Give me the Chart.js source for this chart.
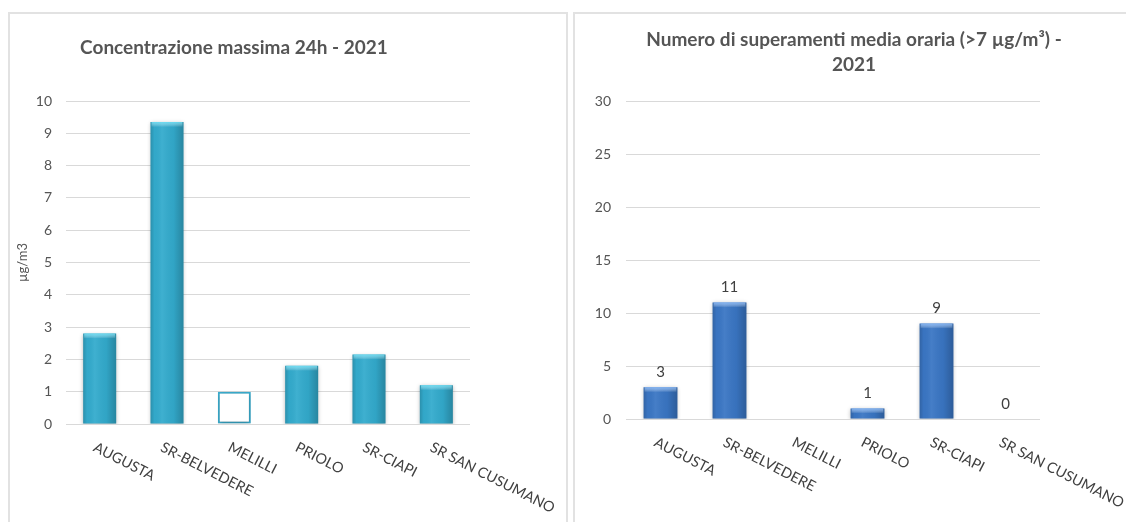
<!DOCTYPE html>
<html>
<head>
<meta charset="utf-8">
<script src="https://cdn.jsdelivr.net/npm/chart.js@4.4.1/dist/chart.umd.min.js"></script>
<style>
  body { margin: 0; width: 1126px; height: 522px; overflow: hidden; position: relative; background: #fff; font-family: Lato, sans-serif; }
  .panel { position: absolute; border: 2px solid #e2e2e2; box-sizing: border-box; background: #fff; }
  #p1 { left: 8px; top: 12px; width: 560px; height: 530px; }
  #p2 { left: 573px; top: 12px; width: 570px; height: 530px; }
  canvas { position: absolute; }
  #c1 { left: 10px; top: 14px; }
  #c2 { left: 575px; top: 14px; }
</style>
</head>
<body>
<div class="panel" id="p1"></div>
<div class="panel" id="p2"></div>
<canvas id="c1" width="556" height="508"></canvas>
<canvas id="c2" width="551" height="508"></canvas>
<script>
// stations
const stations = ['AUGUSTA', 'SR-BELVEDERE', 'MELILLI', 'PRIOLO', 'SR-CIAPI', 'SR SAN CUSUMANO'];
// max 24h concentration, µg/m3
const maxConc24h = [2.8, 9.35, 1.0, 1.8, 2.15, 1.2];
// hourly mean exceedances (>7 µg/m3)
const exceedances = [3, 11, null, 1, 9, 0];

const leftTitle = ['Concentrazione massima 24h - 2021'];
const rightTitle = ['Numero di superamenti media oraria (>7 µg/m³) -', '2021'];
const leftAxisTitle = 'µg/m3';
const leftTicks = { min: 0, max: 10, step: 1 };
const rightTicks = { min: 0, max: 30, step: 5 };

const hollowBars = ['MELILLI']; // drawn as empty box in the first chart

const FONT = 'Lato, "Open Sans", sans-serif';
const GRID = '#d9d9d9';
const TEXT = '#555555';

// shading, titles, rotated category labels and value labels
const decor = {
  id: 'decor',
  beforeDatasetsDraw(chart) {
    const ctx = chart.ctx;
    ctx.save();
    ctx.shadowColor = 'rgba(0,0,0,0.28)';
    ctx.shadowBlur = 4;
    ctx.shadowOffsetY = 1;
  },
  afterDatasetsDraw(chart, args, opts) {
    const ctx = chart.ctx;
    ctx.restore();
    const meta = chart.getDatasetMeta(0);
    const data = chart.data.datasets[0].data;
    meta.data.forEach((bar, i) => {
      if (data[i] == null) return;
      if (hollowBars.includes(chart.data.labels[i]) && opts.hollow) return;
      const l = bar.x - bar.width / 2, r = bar.x + bar.width / 2;
      const t = bar.y, b = bar.base;
      if (b - t < 1) return;
      const g = ctx.createLinearGradient(l, 0, r, 0);
      g.addColorStop(0, 'rgba(0,0,0,0.16)');
      g.addColorStop(0.12, 'rgba(0,0,0,0.02)');
      g.addColorStop(0.35, 'rgba(255,255,255,0.06)');
      g.addColorStop(0.7, 'rgba(0,0,0,0.04)');
      g.addColorStop(1, 'rgba(0,0,0,0.22)');
      ctx.fillStyle = g;
      ctx.fillRect(l, t, r - l, b - t);
      const h = Math.min(5, b - t);
      const tg = ctx.createLinearGradient(0, t, 0, t + h);
      tg.addColorStop(0, opts.bevel);
      tg.addColorStop(1, 'rgba(255,255,255,0)');
      ctx.fillStyle = tg;
      ctx.fillRect(l + 1, t, r - l - 2, h);
    });
  },
  afterDraw(chart, args, opts) {
    const ctx = chart.ctx;
    const area = chart.chartArea;
    const xs = chart.scales.x;
    ctx.save();
    ctx.fillStyle = TEXT;
    ctx.font = 'bold 19px ' + FONT;
    ctx.textAlign = 'center';
    ctx.textBaseline = 'middle';
    opts.title.forEach((line, k) => ctx.fillText(line, opts.titleX, opts.titleY + k * 25));

    ctx.fillStyle = '#404040';
    ctx.font = '14.5px ' + FONT;
    ctx.textAlign = 'left';
    ctx.textBaseline = 'top';
    chart.data.labels.forEach((lab, i) => {
      const px = xs.getPixelForValue(i);
      ctx.save();
      ctx.translate(px - 2, area.bottom + 16);
      ctx.rotate(27 * Math.PI / 180);
      ctx.fillText(lab, 0, 0);
      ctx.restore();
    });

    if (opts.values) {
      const meta = chart.getDatasetMeta(0);
      const data = chart.data.datasets[0].data;
      ctx.textAlign = 'center';
      ctx.textBaseline = 'middle';
      ctx.font = '15px ' + FONT;
      meta.data.forEach((bar, i) => {
        if (data[i] == null) return;
        ctx.fillText(String(data[i]), bar.x, bar.y - 15);
      });
    }
    ctx.restore();
  }
};

function buildChart(id, values, opts) {
  return new Chart(document.getElementById(id), {
    type: 'bar',
    data: {
      labels: stations,
      datasets: [{
        data: values,
        backgroundColor: opts.colors,
        borderColor: opts.borders,
        borderWidth: opts.borderWidths,
        borderSkipped: false,
        categoryPercentage: 1,
        barPercentage: 0.49
      }]
    },
    plugins: [decor],
    options: {
      responsive: false,
      animation: false,
      layout: { padding: opts.padding },
      plugins: {
        legend: { display: false },
        tooltip: { enabled: false },
        decor: opts.decor
      },
      scales: {
        x: { display: false },
        y: {
          min: opts.ticks.min,
          max: opts.ticks.max,
          afterFit: s => { s.width = opts.axisWidth; },
          border: { display: false },
          grid: { color: GRID, lineWidth: 1, drawTicks: false },
          ticks: {
            stepSize: opts.ticks.step,
            padding: opts.tickPad,
            color: TEXT,
            font: { family: FONT, size: 14 }
          },
          title: opts.axisTitle ? {
            display: true,
            text: opts.axisTitle,
            color: TEXT,
            font: { family: FONT, size: 13 },
            padding: { top: 5, bottom: 0 }
          } : { display: false }
        }
      }
    }
  });
}

buildChart('c1', maxConc24h, {
  colors: stations.map(s => hollowBars.includes(s) ? '#ffffff' : '#33abcd'),
  borders: stations.map(s => hollowBars.includes(s) ? '#3aaed0' : 'rgba(0,0,0,0)'),
  borderWidths: stations.map(s => hollowBars.includes(s) ? 2 : 0),
  padding: { left: 0, top: 87, right: 96, bottom: 98 },
  axisWidth: 56,
  tickPad: 14,
  ticks: leftTicks,
  axisTitle: leftAxisTitle,
  decor: { title: leftTitle, titleX: 224, titleY: 34, bevel: 'rgba(120,235,255,0.75)', hollow: true, values: false }
});

buildChart('c2', exceedances, {
  colors: '#3a76c4',
  borders: 'rgba(0,0,0,0)',
  borderWidths: 0,
  padding: { left: 0, top: 87, right: 86, bottom: 103 },
  axisWidth: 51,
  tickPad: 15,
  ticks: rightTicks,
  axisTitle: null,
  decor: { title: rightTitle, titleX: 279, titleY: 26, bevel: 'rgba(140,190,255,0.8)', hollow: false, values: true }
});
</script>
</body>
</html>
